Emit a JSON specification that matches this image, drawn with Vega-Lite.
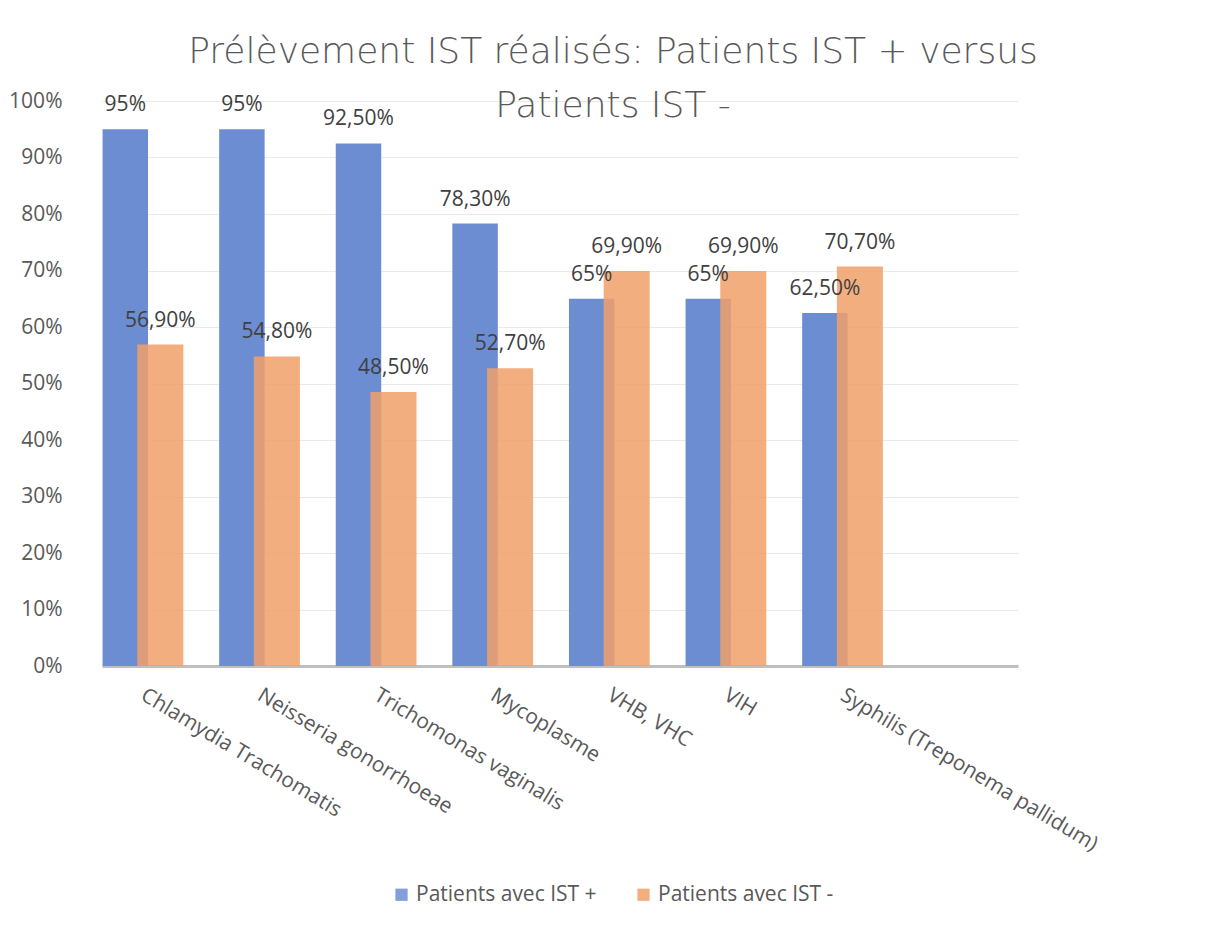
{
  "$schema": "https://vega.github.io/schema/vega-lite/v6.json",
  "autosize": "none",
  "width": 916,
  "height": 565,
  "padding": {"left": 102, "top": 101, "right": 208, "bottom": 270},
  "background": "white",
  "config": {
    "font": "Open Sans",
    "view": {"stroke": null},
    "axis": {"labelColor": "#595959", "labelFont": "Open Sans"}
  },
  "title": {
    "text": ["Prélèvement IST réalisés: Patients IST + versus", "Patients IST -"],
    "font": "DejaVu Sans",
    "fontSize": 36,
    "fontWeight": 200,
    "color": "#595959",
    "lineHeight": 54,
    "anchor": "middle",
    "frame": "group",
    "dx": 53,
    "offset": -35
  },
  "data": {
    "values": [
      {"categorie": "Chlamydia Trachomatis", "serie": "Patients avec IST +", "valeur": 0.95, "etiquette": "95%"},
      {"categorie": "Neisseria gonorrhoeae", "serie": "Patients avec IST +", "valeur": 0.95, "etiquette": "95%"},
      {"categorie": "Trichomonas vaginalis", "serie": "Patients avec IST +", "valeur": 0.925, "etiquette": "92,50%"},
      {"categorie": "Mycoplasme", "serie": "Patients avec IST +", "valeur": 0.783, "etiquette": "78,30%"},
      {"categorie": "VHB, VHC", "serie": "Patients avec IST +", "valeur": 0.65, "etiquette": "65%"},
      {"categorie": "VIH", "serie": "Patients avec IST +", "valeur": 0.65, "etiquette": "65%"},
      {"categorie": "Syphilis (Treponema pallidum)", "serie": "Patients avec IST +", "valeur": 0.625, "etiquette": "62,50%"},
      {"categorie": "Chlamydia Trachomatis", "serie": "Patients avec IST -", "valeur": 0.569, "etiquette": "56,90%"},
      {"categorie": "Neisseria gonorrhoeae", "serie": "Patients avec IST -", "valeur": 0.548, "etiquette": "54,80%"},
      {"categorie": "Trichomonas vaginalis", "serie": "Patients avec IST -", "valeur": 0.485, "etiquette": "48,50%"},
      {"categorie": "Mycoplasme", "serie": "Patients avec IST -", "valeur": 0.527, "etiquette": "52,70%"},
      {"categorie": "VHB, VHC", "serie": "Patients avec IST -", "valeur": 0.699, "etiquette": "69,90%"},
      {"categorie": "VIH", "serie": "Patients avec IST -", "valeur": 0.699, "etiquette": "69,90%"},
      {"categorie": "Syphilis (Treponema pallidum)", "serie": "Patients avec IST -", "valeur": 0.707, "etiquette": "70,70%"}
    ]
  },
  "encoding": {
    "x": {
      "field": "categorie",
      "type": "nominal",
      "sort": null,
      "scale": {"paddingInner": 0, "paddingOuter": 0.428, "align": 0},
      "axis": {
        "title": null,
        "labelAngle": 31,
        "labelAlign": "left",
        "labelBaseline": "top",
        "labelFontSize": 21,
        "labelOffset": -12,
        "labelPadding": 18,
        "labelLimit": 400,
        "ticks": false,
        "grid": false,
        "domainColor": "#BFBFBF",
        "domainWidth": 3
      }
    },
    "y": {
      "field": "valeur",
      "type": "quantitative",
      "scale": {"domain": [0, 1], "nice": false},
      "axis": {
        "title": null,
        "values": [0, 0.1, 0.2, 0.3, 0.4, 0.5, 0.6, 0.7, 0.8, 0.9, 1],
        "format": ".0%",
        "labelFontSize": 21,
        "labelPadding": 40,
        "ticks": false,
        "domain": false,
        "gridColor": "#EAEAEA",
        "gridWidth": 1
      }
    }
  },
  "layer": [
    {
      "transform": [{"filter": "datum.serie === 'Patients avec IST +'"}],
      "mark": {"type": "bar", "width": {"band": 0.39}, "xOffset": -35},
      "encoding": {
        "color": {
          "field": "serie",
          "type": "nominal",
          "scale": {"domain": ["Patients avec IST +", "Patients avec IST -"], "range": ["#6D8DD3", "#F1A068"]},
          "legend": {
            "title": null,
            "orient": "none",
            "direction": "horizontal",
            "legendX": 289,
            "legendY": 783,
            "symbolType": "square",
            "symbolSize": 150,
            "symbolStrokeWidth": 0,
            "labelFontSize": 21,
            "labelLimit": 400,
            "labelColor": "#595959",
            "columnPadding": 36,
            "labelOffset": 4
          }
        }
      }
    },
    {
      "transform": [{"filter": "datum.serie === 'Patients avec IST -'"}],
      "mark": {"type": "bar", "width": {"band": 0.395}, "xOffset": 0, "opacity": 0.85},
      "encoding": {
        "color": {
          "field": "serie",
          "type": "nominal",
          "scale": {"domain": ["Patients avec IST +", "Patients avec IST -"], "range": ["#6D8DD3", "#F1A068"]}
        }
      }
    },
    {
      "transform": [{"filter": "datum.serie === 'Patients avec IST +'"}],
      "mark": {"type": "text", "xOffset": -35, "dy": -24, "baseline": "middle", "fontSize": 21, "color": "#404040"},
      "encoding": {"text": {"field": "etiquette"}}
    },
    {
      "transform": [{"filter": "datum.serie === 'Patients avec IST -'"}],
      "mark": {"type": "text", "xOffset": 0, "dy": -24, "baseline": "middle", "fontSize": 21, "color": "#404040"},
      "encoding": {"text": {"field": "etiquette"}}
    }
  ]
}
